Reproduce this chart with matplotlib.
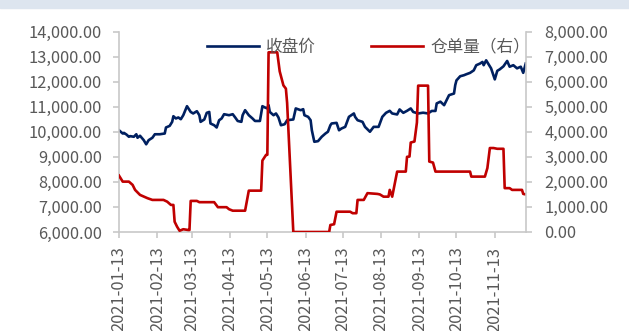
import matplotlib
matplotlib.use("Agg")
import matplotlib.pyplot as plt
import matplotlib.dates as mdates
import matplotlib.ticker as mticker
import pandas as pd

plt.rcParams['font.family'] = ['Noto Sans CJK SC', 'DejaVu Sans']

# 收盘价
fechas_precio = ["2021-01-13", "2021-01-16", "2021-01-17", "2021-01-19", "2021-01-21", "2021-01-22",
                 "2021-01-25", "2021-01-27", "2021-01-28", "2021-01-30", "2021-02-02", "2021-02-04",
                 "2021-02-06", "2021-02-09", "2021-02-11", "2021-02-15", "2021-02-19", "2021-02-20",
                 "2021-02-23", "2021-02-25", "2021-02-26", "2021-02-28", "2021-03-02", "2021-03-04",
                 "2021-03-06", "2021-03-09", "2021-03-12", "2021-03-14", "2021-03-17", "2021-03-19",
                 "2021-03-20", "2021-03-23", "2021-03-25", "2021-03-27", "2021-03-28", "2021-03-31",
                 "2021-04-02", "2021-04-04", "2021-04-06", "2021-04-08", "2021-04-12", "2021-04-15",
                 "2021-04-17", "2021-04-19", "2021-04-22", "2021-04-23", "2021-04-25", "2021-04-28",
                 "2021-05-01", "2021-05-03", "2021-05-07", "2021-05-09", "2021-05-11", "2021-05-13",
                 "2021-05-14", "2021-05-15", "2021-05-18", "2021-05-20", "2021-05-22", "2021-05-24",
                 "2021-05-27", "2021-05-29", "2021-06-03", "2021-06-05", "2021-06-09", "2021-06-11",
                 "2021-06-12", "2021-06-15", "2021-06-17", "2021-06-18", "2021-06-20", "2021-06-23",
                 "2021-06-26", "2021-06-29", "2021-07-01", "2021-07-03", "2021-07-04", "2021-07-08",
                 "2021-07-10", "2021-07-12", "2021-07-15", "2021-07-18", "2021-07-22", "2021-07-23",
                 "2021-07-25", "2021-07-29", "2021-07-31", "2021-08-04", "2021-08-07", "2021-08-11",
                 "2021-08-14", "2021-08-17", "2021-08-20", "2021-08-22", "2021-08-26", "2021-08-28",
                 "2021-08-31", "2021-09-03", "2021-09-06", "2021-09-08", "2021-09-12", "2021-09-16",
                 "2021-09-20", "2021-09-23", "2021-09-26", "2021-09-27", "2021-09-30", "2021-10-03",
                 "2021-10-07", "2021-10-11", "2021-10-12", "2021-10-13", "2021-10-16", "2021-10-19",
                 "2021-10-21", "2021-10-24", "2021-10-27", "2021-10-29", "2021-11-01", "2021-11-03",
                 "2021-11-04", "2021-11-06", "2021-11-08", "2021-11-10", "2021-11-13", "2021-11-15",
                 "2021-11-17", "2021-11-20", "2021-11-23", "2021-11-25", "2021-11-28", "2021-12-01",
                 "2021-12-04", "2021-12-06", "2021-12-08"]
precio = [10060, 9930, 9955, 9890, 9800, 9825,
          9800, 9900, 9760, 9840, 9665, 9500,
          9665, 9760, 9900, 9900, 9930, 10170,
          10235, 10395, 10620, 10530, 10570, 10500,
          10660, 11020, 10790, 10730, 10820, 10660,
          10395, 10490, 10755, 10790, 10330, 10260,
          10170, 10460, 10530, 10700, 10660, 10700,
          10570, 10430, 10395, 10660, 10860, 10660,
          10530, 10430, 10430, 11020, 10970, 10930,
          11060, 10790, 10660, 10730, 10570, 10260,
          10300, 10460, 10490, 10930, 10860, 10900,
          10660, 10595, 10460, 10060, 9600, 9625,
          9800, 9930, 10000, 10260, 10330, 10355,
          10060, 10130, 10195, 10595, 10730, 10595,
          10460, 10395, 10195, 10000, 10195, 10195,
          10595, 10755, 10835, 10730, 10690, 10890,
          10755, 10835, 10930, 10790, 10730, 10760,
          10730, 10830, 10830, 11130, 11200, 11060,
          11460, 11525, 11860, 12050, 12215, 12255,
          12295, 12350, 12450, 12655, 12720, 12785,
          12655, 12850, 12690, 12530, 12090, 12430,
          12490, 12610, 12825, 12595, 12655, 12530,
          12595, 12350, 12720]

# 仓单量（右）
fechas_cd = ["2021-01-13", "2021-01-16", "2021-01-21", "2021-01-24", "2021-01-26", "2021-01-30",
             "2021-02-05", "2021-02-09", "2021-02-18", "2021-02-21", "2021-02-24", "2021-02-26",
             "2021-02-27", "2021-03-01", "2021-03-03", "2021-03-06", "2021-03-10", "2021-03-11",
             "2021-03-12", "2021-03-17", "2021-03-19", "2021-03-31", "2021-04-03", "2021-04-10",
             "2021-04-12", "2021-04-15", "2021-04-25", "2021-04-28", "2021-05-08", "2021-05-09",
             "2021-05-12", "2021-05-13", "2021-05-14", "2021-05-21", "2021-05-23", "2021-05-26",
             "2021-05-28", "2021-05-29", "2021-06-03", "2021-07-02", "2021-07-03", "2021-07-06",
             "2021-07-08", "2021-07-19", "2021-07-21", "2021-07-24", "2021-07-25", "2021-07-30",
             "2021-08-02", "2021-08-10", "2021-08-12", "2021-08-15", "2021-08-19", "2021-08-20",
             "2021-08-22", "2021-08-26", "2021-09-02", "2021-09-03", "2021-09-05", "2021-09-06",
             "2021-09-09", "2021-09-11", "2021-09-12", "2021-09-20", "2021-09-21", "2021-09-24",
             "2021-09-26", "2021-10-24", "2021-10-25", "2021-11-05", "2021-11-07", "2021-11-09",
             "2021-11-12", "2021-11-15", "2021-11-20", "2021-11-21", "2021-11-25", "2021-11-27",
             "2021-12-05", "2021-12-06", "2021-12-08"]
cangdan = [2250, 2010, 2010, 1880, 1680, 1480,
           1350, 1280, 1280, 1210, 1080, 1080,
           410, 210, 50, 110, 80, 80,
           1240, 1240, 1190, 1190, 990, 990,
           910, 850, 850, 1650, 1650, 2850,
           3080, 3080, 7170, 7170, 6410, 5850,
           5720, 5150, 0, 0, 280, 310,
           810, 810, 750, 750, 1280, 1280,
           1550, 1520, 1500, 1410, 1410, 1680,
           1410, 2410, 2410, 3000, 3010, 3570,
           3610, 4370, 5840, 5840, 2810, 2770,
           2410, 2410, 2210, 2210, 2550, 3350,
           3350, 3320, 3320, 1750, 1750, 1680,
           1680, 1520, 1500]

ticks_x = ["2021-01-13", "2021-02-13", "2021-03-13", "2021-04-13", "2021-05-13", "2021-06-13",
           "2021-07-13", "2021-08-13", "2021-09-13", "2021-10-13", "2021-11-13"]

gris = "#595959"
eje = "#c8c8c8"
tam = 11.8

fig = plt.figure(figsize=(6.29, 3.31), dpi=100)
fig.patches.append(plt.Rectangle((0, 1 - 8 / 331), 1, 8 / 331, transform=fig.transFigure,
                                 color="#dde5ef", zorder=0))
ax = fig.add_axes([119 / 629, 1 - 232 / 331, (525.7 - 119) / 629, 200.5 / 331])
ax2 = ax.twinx()

l1, = ax.plot(pd.to_datetime(fechas_precio), precio, color="#002060", lw=1.9, label="收盘价")
l2, = ax2.plot(pd.to_datetime(fechas_cd), cangdan, color="#c00000", lw=1.9, label="仓单量（右）")

ax.set_xlim(pd.Timestamp("2021-01-13"), pd.Timestamp("2021-12-08"))
ax.set_ylim(6000, 14000)
ax2.set_ylim(0, 8000)
ax.set_yticks(range(6000, 14001, 1000))
ax2.set_yticks(range(0, 8001, 1000))
ax.yaxis.set_major_formatter(mticker.StrMethodFormatter("{x:,.2f}"))
ax2.yaxis.set_major_formatter(mticker.StrMethodFormatter("{x:,.2f}"))
ax.set_xticks(pd.to_datetime(ticks_x))
ax.xaxis.set_major_formatter(mdates.DateFormatter("%Y-%m-%d"))

for a in (ax, ax2):
    for s in a.spines.values():
        s.set_color(eje)
        s.set_linewidth(1.2)
    a.spines["top"].set_visible(False)
ax.spines["right"].set_visible(False)
ax2.spines["left"].set_visible(False)
ax2.spines["bottom"].set_visible(False)

ax.tick_params(axis="y", colors=eje, labelcolor=gris, labelsize=tam, length=4.5, width=1.2, pad=8)
ax2.tick_params(axis="y", colors=eje, labelcolor=gris, labelsize=tam, length=4.5, width=1.2, pad=9)
ax.tick_params(axis="x", colors=eje, labelcolor=gris, labelsize=tam, length=4.5, width=1.2,
               pad=6, labelrotation=90)

fig.legend(handles=[l1, l2], loc="center left", bbox_to_anchor=(207 / 629, 1 - 47 / 331),
           ncol=2, frameon=False, fontsize=12, labelcolor=gris, handlelength=3.1,
           handletextpad=0.45, columnspacing=3.3, borderpad=0, borderaxespad=0)

plt.savefig("out.png", dpi=100)
